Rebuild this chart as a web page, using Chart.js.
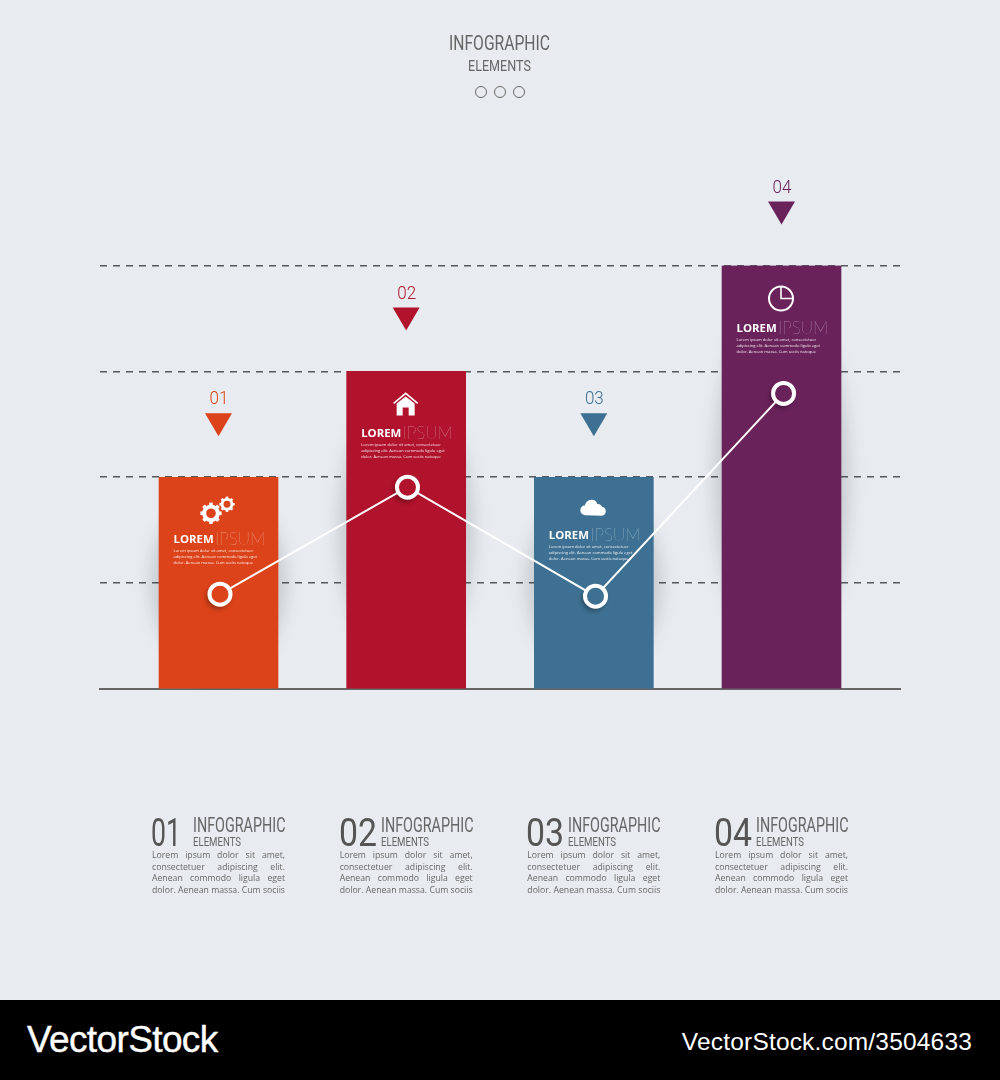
<!DOCTYPE html>
<html>
<head>
<meta charset="utf-8">
<script src="https://cdn.jsdelivr.net/npm/chart.js@4"></script>
<style>
  html, body { margin: 0; padding: 0; background: #e8ecf0; }
  #page { position: relative; width: 1000px; height: 1080px; overflow: hidden; background: #e8ecf0; }
  #myChart { position: absolute; left: 0; top: 0; }
  .abs { position: absolute; white-space: nowrap; color: #666; font-family: Roboto, sans-serif; font-weight: 400; line-height: 1; transform-origin: 0 0; }
  .ring { position: absolute; top: 85.5px; width: 10px; height: 10px; border: 1.5px solid #666; border-radius: 50%; }
  .para { position: absolute; width: 133px; color: #666; font: 8.7px/11.6px "Open Sans", sans-serif; text-align: justify; text-align-last: justify; }
  .para div { white-space: nowrap; }
  #banner { position: absolute; left: 0; top: 1000px; width: 1000px; height: 80px; background: #000; color: #fff; font-family: "Liberation Sans", sans-serif; }
  #banner span { position: absolute; white-space: nowrap; line-height: 1; }
</style>
</head>
<body>
<div id="page">
  <canvas id="myChart" width="1000" height="1000"></canvas>
  <div id="overlay"></div>
  <div id="banner">
    <span style="left:27px;top:21px;font-size:37px;letter-spacing:-.62px;-webkit-text-stroke:.4px #fff">VectorStock</span>
    <span style="right:28px;top:30px;font-size:24.5px;letter-spacing:.18px">VectorStock.com/3504633</span>
  </div>
</div>
<script>
const titleTop = 'INFOGRAPHIC'
const titleSub = 'ELEMENTS'
const categories = ['01', '02', '03', '04']
const barPositions = [1, 2, 3, 4]
const barValues = [2, 3, 2, 4]
const linePositions = [1.008, 2.007, 3.009, 4.011]
const lineValues = [0.896, 1.906, 0.877, 2.792]
const barColors = ['#dc431a', '#b0132b', '#3d7092', '#6a225b']
const icons = ['gears', 'home', 'cloud', 'pie']
const textOffsets = [62, 62, 58, 63]
const smallLines = ['Lorem ipsum dolor sit amet, consectetuer', 'adipiscing elit. Aenean commodo ligula eget', 'dolor. Aenean massa. Cum sociis natoque']
const footerLines = ['Lorem ipsum dolor sit amet,', 'consectetuer adipiscing elit.', 'Aenean commodo ligula eget', 'dolor. Aenean massa. Cum sociis']

// page text around the chart, squeezed to the narrow width of the original lettering
const overlay = document.getElementById('overlay')
function addText(txt, left, top, size, width, extra) {
  let el = document.createElement('div')
  el.className = 'abs'
  el.textContent = txt
  el.style.left = left + 'px'
  el.style.top = top + 'px'
  el.style.fontSize = size + 'px'
  if (extra) el.style.cssText += extra
  overlay.appendChild(el)
  el.style.transform = 'scaleX(' + (width / el.getBoundingClientRect().width) + ')'
}
addText(titleTop, 449, 33, 20.5, 101)
addText(titleSub, 468, 60, 14.5, 63)
;[474.5, 493.5, 512.5].forEach(l => {
  let r = document.createElement('div')
  r.className = 'ring'
  r.style.left = l + 'px'
  overlay.appendChild(r)
})
categories.forEach((c, i) => {
  let left = 152 + i * 187.67
  addText(c, left - 1, 813, 39.5, i == 0 ? 30 : 38, 'color:#555')
  addText(titleTop, left + 41, 815, 20, 92.5)
  addText(titleSub, left + 41, 835, 13.5, 48)
  let p = document.createElement('div')
  p.className = 'para'
  p.style.left = left + 'px'
  p.style.top = '850px'
  footerLines.forEach(t => {
    let d = document.createElement('div')
    d.textContent = t
    p.appendChild(d)
  })
  overlay.appendChild(p)
})

function drawGear(ctx, cx, cy, r, teeth) {
  ctx.save()
  ctx.translate(cx, cy)
  ctx.lineWidth = r * 0.42
  ctx.beginPath()
  ctx.arc(0, 0, r * 0.72, 0, Math.PI * 2)
  ctx.stroke()
  for (let t = 0; t < teeth; t++) {
    ctx.rotate(Math.PI * 2 / teeth)
    ctx.fillRect(-r * 0.19, -r * 1.12, r * 0.38, r * 0.4)
  }
  ctx.restore()
}

function drawIcon(ctx, kind, cx, cy) {
  ctx.fillStyle = '#fff'
  ctx.strokeStyle = '#fff'
  if (kind == 'gears') {
    drawGear(ctx, cx - 7, cy + 3, 9.5, 8)
    drawGear(ctx, cx + 9, cy - 6, 6.8, 8)
  } else if (kind == 'home') {
    ctx.lineWidth = 1.6
    ctx.beginPath()
    ctx.moveTo(cx - 12, cy - 1)
    ctx.lineTo(cx, cy - 11)
    ctx.lineTo(cx + 12, cy - 1)
    ctx.stroke()
    ctx.beginPath()
    ctx.moveTo(cx, cy - 8)
    ctx.lineTo(cx + 9, cy - 1)
    ctx.lineTo(cx + 9, cy + 11)
    ctx.lineTo(cx + 3, cy + 11)
    ctx.lineTo(cx + 3, cy + 3)
    ctx.lineTo(cx - 3, cy + 3)
    ctx.lineTo(cx - 3, cy + 11)
    ctx.lineTo(cx - 9, cy + 11)
    ctx.lineTo(cx - 9, cy - 1)
    ctx.closePath()
    ctx.fill()
  } else if (kind == 'cloud') {
    ctx.beginPath()
    ctx.arc(cx - 8, cy + 2, 5, Math.PI / 2, Math.PI * 1.5)
    ctx.arc(cx - 2, cy - 2, 6.5, Math.PI, Math.PI * 1.9)
    ctx.arc(cx + 5, cy, 4, Math.PI * 1.2, Math.PI * 1.9)
    ctx.arc(cx + 8, cy + 3, 4.5, Math.PI * 1.5, Math.PI / 2)
    ctx.closePath()
    ctx.fill()
  } else {
    ctx.lineWidth = 2
    ctx.beginPath()
    ctx.arc(cx, cy, 12, 0, Math.PI * 2)
    ctx.stroke()
    ctx.lineWidth = 1.6
    ctx.beginPath()
    ctx.moveTo(cx, cy - 12)
    ctx.lineTo(cx, cy)
    ctx.lineTo(cx + 12, cy)
    ctx.stroke()
  }
}

// soft shadows beside the bars
const barShadow = {
  id: 'barShadow',
  beforeDatasetsDraw(chart) {
    let ctx = chart.ctx
    ctx.save()
    ctx.filter = 'blur(8px)'
    ctx.fillStyle = 'rgba(40,45,55,.17)'
    chart.getDatasetMeta(1).data.forEach(b => {
      let h = b.base - b.y
      ctx.beginPath()
      ctx.ellipse(b.x, b.y + h / 2, 68, h * 0.44, 0, 0, Math.PI * 2)
      ctx.fill()
    })
    ctx.restore()
  },
  beforeDatasetDraw(chart, args) {
    if (args.index != 0) return
    let ctx = chart.ctx
    ctx.save()
    ctx.filter = 'blur(2px)'
    ctx.fillStyle = 'rgba(0,0,0,.3)'
    chart.getDatasetMeta(0).data.forEach(p => {
      ctx.beginPath()
      ctx.arc(p.x - 2, p.y + 3, 12, 0, Math.PI * 2)
      ctx.fill()
    })
    ctx.restore()
  }
}

// markers above the bars and the text inside them
const barLabels = {
  id: 'barLabels',
  afterDatasetDraw(chart, args) {
    if (args.index != 1) return
    let ctx = chart.ctx
    ctx.save()
    chart.getDatasetMeta(1).data.forEach((b, i) => {
      let left = b.x - 59.5
      ctx.fillStyle = barColors[i]
      ctx.textAlign = 'center'
      ctx.textBaseline = 'middle'
      ctx.font = '300 18.5px Roboto, sans-serif'
      ctx.save()
      ctx.translate(b.x + 0.5, b.y - 77.5)
      ctx.scale(0.92, 1)
      ctx.fillText(categories[i], 0, 0)
      ctx.restore()
      ctx.beginPath()
      ctx.moveTo(b.x - 13.5, b.y - 64)
      ctx.lineTo(b.x + 13.5, b.y - 64)
      ctx.lineTo(b.x, b.y - 41)
      ctx.closePath()
      ctx.fill()

      drawIcon(ctx, icons[i], b.x - 0.5, b.y + (i == 2 ? 31 : 33))

      let ty = b.y + textOffsets[i]
      ctx.textAlign = 'left'
      ctx.fillStyle = '#fff'
      ctx.font = '700 11.4px "Open Sans", sans-serif'
      ctx.fillText('LOREM', left + 14.5, ty)
      ctx.fillStyle = 'rgba(255,255,255,.7)'
      ctx.font = '100 17px Lato, sans-serif'
      ctx.fillText('IPSUM', left + 56, ty)
      ctx.fillStyle = 'rgba(255,255,255,.9)'
      ctx.font = '4.1px "Open Sans", sans-serif'
      smallLines.forEach((t, k) => ctx.fillText(t, left + 14.5, ty + 11.5 + k * 5.8))
    })
    ctx.restore()
  }
}

new Chart(document.getElementById('myChart'), {
  type: 'bar',
  data: {
    datasets: [
      {
        type: 'line',
        order: 0,
        data: linePositions.map((x, i) => ({ x: x, y: lineValues[i] })),
        borderColor: '#fff',
        borderWidth: 2,
        tension: 0,
        pointRadius: 10.5,
        pointBorderWidth: 4,
        pointBorderColor: '#fff',
        pointBackgroundColor: barColors
      },
      {
        type: 'bar',
        order: 1,
        data: barPositions.map((x, i) => ({ x: x, y: barValues[i] })),
        backgroundColor: barColors,
        borderWidth: 0,
        barThickness: 119
      }
    ]
  },
  options: {
    responsive: false,
    animation: false,
    devicePixelRatio: 1,
    layout: { padding: { left: 100, right: 100, top: 265.5, bottom: 311 } },
    plugins: { legend: { display: false }, tooltip: { enabled: false } },
    scales: {
      x: {
        type: 'linear',
        offset: false,
        min: 0.3686,
        max: 4.6314,
        ticks: { display: false },
        grid: { display: false, drawTicks: false },
        border: { display: true, color: '#666', width: 2 }
      },
      y: {
        min: 0,
        max: 4,
        ticks: { display: false, stepSize: 1 },
        grid: { color: '#55585c', lineWidth: 1.6, drawTicks: false },
        border: { display: false, dash: [7, 6] }
      }
    }
  },
  plugins: [barShadow, barLabels]
})
</script>
</body>
</html>
